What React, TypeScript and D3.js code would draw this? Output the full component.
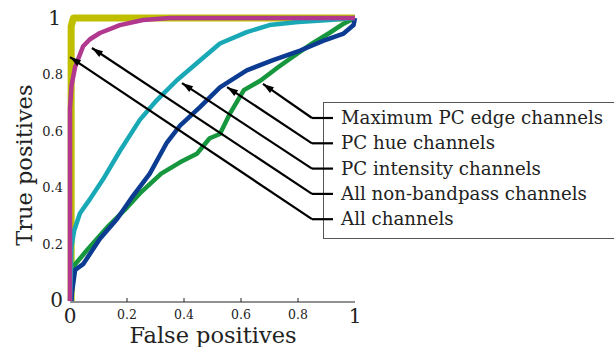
import React from 'react';
import * as d3 from 'd3';

const W = 614;
const H = 347;

// ROC curves: [false positive rate, true positive rate]
const allChannels: [number, number][] = [
  [0.004, 0], [0.004, 0.5], [0.004, 0.97], [0.012, 1], [1, 1],
];
const nonBandpass: [number, number][] = [
  [0, 0], [0, 0.68], [0.005, 0.76], [0.018, 0.827], [0.046, 0.9], [0.07, 0.925],
  [0.105, 0.947], [0.175, 0.975], [0.256, 0.993], [0.35, 1], [1, 1],
];
const pcIntensity: [number, number][] = [
  [0, 0], [0.003, 0.1], [0.005, 0.19], [0.015, 0.25], [0.035, 0.31], [0.07, 0.36],
  [0.116, 0.43], [0.175, 0.53], [0.245, 0.64], [0.305, 0.71], [0.375, 0.78],
  [0.456, 0.85], [0.526, 0.91], [0.62, 0.95], [0.7, 0.975], [0.8, 0.986],
  [0.91, 0.993], [1, 1],
];
const pcHue: [number, number][] = [
  [0.005, 0], [0.007, 0.03], [0.018, 0.11], [0.046, 0.13], [0.105, 0.22],
  [0.165, 0.29], [0.22, 0.37], [0.28, 0.45], [0.34, 0.56], [0.386, 0.62],
  [0.456, 0.685], [0.526, 0.755], [0.62, 0.815], [0.71, 0.85], [0.81, 0.886],
  [0.89, 0.92], [0.96, 0.945], [0.995, 0.975], [1, 1],
];
const maxEdge: [number, number][] = [
  [0.005, 0], [0.008, 0.08], [0.01, 0.12], [0.06, 0.18], [0.13, 0.26], [0.2, 0.33],
  [0.245, 0.38], [0.32, 0.45], [0.386, 0.49], [0.445, 0.52], [0.49, 0.575],
  [0.526, 0.59], [0.56, 0.66], [0.61, 0.745], [0.67, 0.78], [0.73, 0.826],
  [0.8, 0.876], [0.85, 0.91], [0.91, 0.947], [0.96, 0.98], [1, 1],
];

const legendLabels = [
  'Maximum PC edge channels',
  'PC hue channels',
  'PC intensity channels',
  'All non-bandpass channels',
  'All channels',
];
// where each legend arrow points, in data units
const arrowTips: [number, number][] = [
  [0.677, 0.767], [0.551, 0.756], [0.393, 0.77], [0.077, 0.894], [0, 0.862],
];

const smallTicks = [0.2, 0.4, 0.6, 0.8];
const FONT = '"DejaVu Serif", serif';

const series = [
  { data: allChannels, color: '#bfbf00', width: 7 },
  { data: maxEdge, color: '#16973d', width: 4.5 },
  { data: pcHue, color: '#0c3b92', width: 4.5 },
  { data: pcIntensity, color: '#19a9b6', width: 4.5 },
  { data: nonBandpass, color: '#b1378f', width: 4.5 },
];

export default function App() {
  const x = d3.scaleLinear().domain([0, 1]).range([70, 355]);
  const y = d3.scaleLinear().domain([0, 1]).range([301, 18]);
  const line = d3.line<[number, number]>().x((d) => x(d[0])).y((d) => y(d[1]));

  const rowY = d3.range(legendLabels.length).map((i) => 118 + i * 25.3);

  const arrowHead = (x1: number, y1: number, tx: number, ty: number) => {
    const ang = Math.atan2(ty - y1, tx - x1);
    const len = 11;
    const half = 3.5;
    const bx = tx - len * Math.cos(ang);
    const by = ty - len * Math.sin(ang);
    const px = -Math.sin(ang) * half;
    const py = Math.cos(ang) * half;
    return `M${tx},${ty}L${bx + px},${by + py}L${bx - px},${by - py}Z`;
  };

  return (
    <div style={{ position: 'fixed', left: 0, top: 0 }}>
      <svg width={W} height={H} style={{ display: 'block', background: '#fff' }}>
        {/* x axis */}
        <line x1={x(0)} x2={x(1)} y1={y(0) + 1} y2={y(0) + 1} stroke="#222" strokeWidth={1} />
        {smallTicks.map((t) => (
          <line key={t} x1={x(t)} x2={x(t)} y1={y(0) + 1} y2={y(0) - 3} stroke="#222" />
        ))}

        {series.map((s, i) => (
          <path key={i} d={line(s.data) ?? ''} fill="none" stroke={s.color}
            strokeWidth={s.width} strokeLinejoin="round" strokeLinecap="butt" />
        ))}

        {/* tick labels */}
        <g fill="#222" fontFamily={FONT}>
          {smallTicks.map((t) => (
            <text key={'y' + t} x={63} y={y(t)} dy="0.35em" textAnchor="end" fontSize={13}>{t}</text>
          ))}
          <text x={61} y={y(1)} dy="0.35em" textAnchor="end" fontSize={20}>1</text>
          <text x={63} y={y(0)} dy="0.3em" textAnchor="end" fontSize={20}>0</text>
          {smallTicks.map((t) => (
            <text key={'x' + t} x={x(t)} y={318.5} textAnchor="middle" fontSize={12.5}>{t}</text>
          ))}
          <text x={x(0)} y={323} textAnchor="middle" fontSize={20}>0</text>
          <text x={x(1)} y={323} textAnchor="middle" fontSize={20}>1</text>
          <text x={213} y={342.5} textAnchor="middle" fontSize={22.5}>False positives</text>
          <text transform={`translate(32,${y(0.48)}) rotate(-90)`} textAnchor="middle" fontSize={22.5}>True positives</text>
        </g>

        {/* legend */}
        <rect x={323.5} y={102.5} width={320} height={136} fill="#fff" stroke="#555" strokeWidth={1} />
        {legendLabels.map((lab, i) => {
          const [fx, fy] = arrowTips[i];
          const tx = x(fx);
          const ty = y(fy);
          const ry = rowY[i];
          return (
            <g key={lab}>
              <line x1={312} x2={333} y1={ry} y2={ry} stroke="#000" strokeWidth={2.2} />
              <line x1={312} y1={ry} x2={tx} y2={ty} stroke="#000" strokeWidth={2.2} />
              <path d={arrowHead(312, ry, tx, ty)} fill="#000" />
              <text x={341} y={ry} dy="0.33em" fontFamily={FONT} fontSize={18.2} fill="#222">{lab}</text>
            </g>
          );
        })}
      </svg>
    </div>
  );
}
